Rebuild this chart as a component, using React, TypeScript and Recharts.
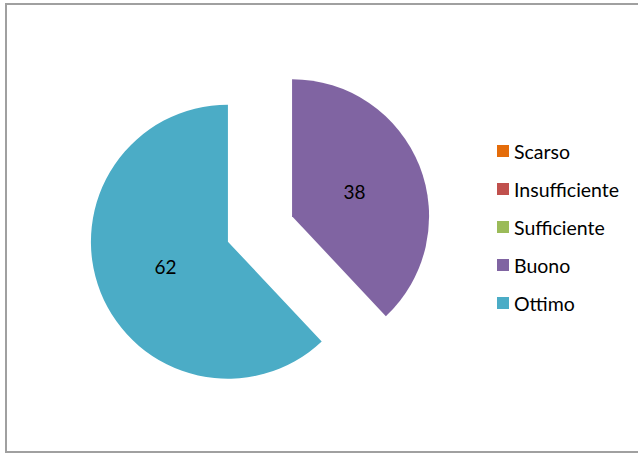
import React from 'react';
import { PieChart, Pie, Cell, Legend } from 'recharts';

const NAMES = ['Scarso', 'Insufficiente', 'Sufficiente', 'Buono', 'Ottimo'];
const VALUES = [0, 0, 0, 38, 62];
const COLORS = ['#E46C0A', '#C0504D', '#9BBB59', '#8064A2', '#4BACC6'];

const data = NAMES.map((name, i) => ({ name, value: VALUES[i] }));
const TOTAL = VALUES.reduce((a, b) => a + b, 0);
const RAD = Math.PI / 180;
const CX = 260;
const CY = 229;
const RADIUS = 137;
const EXPLODE = 34.5;
const FONT = 'Lato, "Open Sans", sans-serif';

// mid angle of slice i (recharts degrees, start at 12 o'clock, clockwise)
function midAngle(i: number) {
    const before = VALUES.slice(0, i).reduce((a, b) => a + b, 0);
    return 90 - (360 * (before + VALUES[i] / 2)) / TOTAL;
}

const LegendContent = () => (
    <div style={{ fontFamily: FONT, fontSize: 19.5, color: '#000' }}>
        {NAMES.map((n, i) => (
            <div key={n} style={{ display: 'flex', alignItems: 'center', height: 38 }}>
                <span style={{ width: 12, height: 12, background: COLORS[i], marginRight: 5 }} />
                <span>{n}</span>
            </div>
        ))}
    </div>
);

export default function App() {
    const shown = VALUES.map((v, i) => i).filter((i) => VALUES[i] > 0);
    return (
        <div style={{ position: 'absolute', left: 0, top: 0, width: 638, height: 453, overflow: 'hidden', background: '#fff' }}>
            <div style={{ position: 'absolute', left: 5, top: 3, width: 650, height: 450, border: '2px solid #a0a0a0', boxSizing: 'border-box' }} />
            <PieChart width={638} height={453} margin={{ top: 0, right: 0, bottom: 0, left: 0 }} style={{ position: 'absolute', left: 0, top: 0 }}>
                {shown.map((t) => {
                    const a = midAngle(t) * RAD;
                    return (
                        <Pie
                            key={t}
                            data={data}
                            dataKey="value"
                            nameKey="name"
                            cx={CX + EXPLODE * Math.cos(a)}
                            cy={CY - EXPLODE * Math.sin(a)}
                            outerRadius={RADIUS}
                            startAngle={90}
                            endAngle={-270}
                            stroke="none"
                            legendType="none"
                            labelLine={false}
                            isAnimationActive={false}
                            label={(p: any) => {
                                if (p.index !== t) return null;
                                const x = p.cx + p.outerRadius * 0.49 * Math.cos(-p.midAngle * RAD);
                                const y = p.cy + p.outerRadius * 0.49 * Math.sin(-p.midAngle * RAD);
                                return (
                                    <text x={x} y={y} textAnchor="middle" dominantBaseline="central" fontFamily={FONT} fontSize={19} fill="#000">
                                        {p.value}
                                    </text>
                                );
                            }}
                        >
                            {data.map((d, i) => (
                                <Cell key={d.name} fill={i === t ? COLORS[i] : 'transparent'} />
                            ))}
                        </Pie>
                    );
                })}
                <Legend content={<LegendContent />} wrapperStyle={{ left: 497, top: 132, width: 140 }} />
            </PieChart>
        </div>
    );
}
